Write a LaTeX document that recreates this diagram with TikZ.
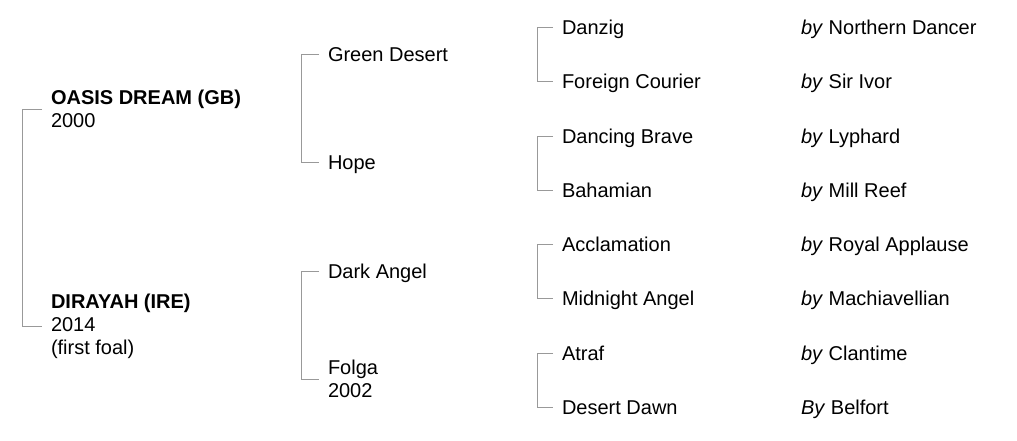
\documentclass[tikz,border=0pt]{standalone}
\usepackage{fontspec}
\setmainfont{Liberation Sans}
\usepackage{xcolor}
\usetikzlibrary{positioning,calc}

\begin{document}
\begin{tikzpicture}[x=0.75pt, y=-0.75pt,
  every node/.style={font=\fontsize{15}{17.25}\selectfont, inner ysep=0pt, outer sep=0pt},
  horse/.style={anchor=west, inner xsep=6.75pt, text height=10.75pt, text depth=0pt},
  horsetwo/.style={anchor=west, inner xsep=6.75pt, align=left},
  sire/.style={anchor=west, inner xsep=0pt, text height=10.75pt, text depth=0pt},
  bracket/.style={draw=black!40, line width=0.75pt}]
				\useasboundingbox (0,0) rectangle (1017,440);
				% foal and dam
				\node[horsetwo] (oasis) at (42,109) {\textbf{OASIS DREAM (GB)}\\2000};
				\node[horsetwo] (dirayah) at (42,326) {\textbf{DIRAYAH (IRE)}\\2014\\(first foal)};
				% second column
				\node[horse] (green) at (319,54) {Green Desert};
				\node[horse] (hope) at (319,162) {Hope};
				\node[horse] (dark) at (319,271) {Dark Angel};
				\node[horsetwo] (folga) at (319,379) {Folga\\2002};
				% third column
				\node[horse] (danzig) at (553,27) {Danzig};
				\node[horse] (foreign) at (553,81) {Foreign Courier};
				\node[horse] (dancing) at (553,136) {Dancing Brave};
				\node[horse] (bahamian) at (553,190) {Bahamian};
				\node[horse] (acclam) at (553,244) {Acclamation};
				\node[horse] (midnight) at (553,298) {Midnight Angel};
				\node[horse] (atraf) at (553,353) {Atraf};
				\node[horse] (dawn) at (553,407) {Desert Dawn};
				% sires
				\node[sire] (s1) at (801,27) {\textit{by} Northern Dancer};
				\node[sire] (s2) at (801,81) {\textit{by} Sir Ivor};
				\node[sire] (s3) at (801,136) {\textit{by} Lyphard};
				\node[sire] (s4) at (801,190) {\textit{by} Mill Reef};
				\node[sire] (s5) at (801,244) {\textit{by} Royal Applause};
				\node[sire] (s6) at (801,298) {\textit{by} Machiavellian};
				\node[sire] (s7) at (801,353) {\textit{by} Clantime};
				\node[sire] (s8) at (801,407) {\textit{By} Belfort};
				
				\draw[bracket] (oasis.west) -- ++(-19.5,0) |- (dirayah.west);
				\draw[bracket] (green.west) -- ++(-18,0) |- (hope.west);
				\draw[bracket] (dark.west) -- ++(-18,0) |- (folga.west);
				\draw[bracket] (danzig.west) -- ++(-16,0) |- (foreign.west);
				\draw[bracket] (dancing.west) -- ++(-16,0) |- (bahamian.west);
				\draw[bracket] (acclam.west) -- ++(-16,0) |- (midnight.west);
				\draw[bracket] (atraf.west) -- ++(-16,0) |- (dawn.west);
			\end{tikzpicture}
\end{document}
